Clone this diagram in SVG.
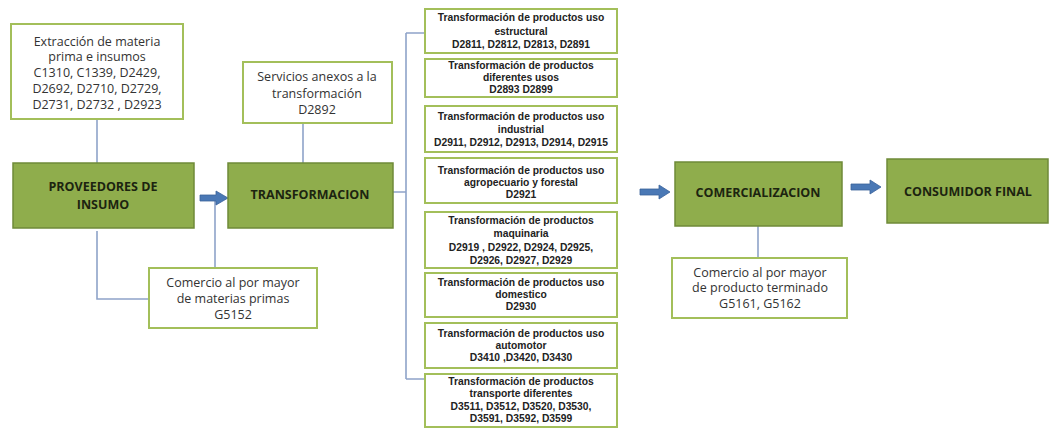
<svg xmlns="http://www.w3.org/2000/svg" width="1049" height="428" viewBox="0 0 1049 428">
<style>
.main{fill:#8fad4c;stroke:#6f8a38;stroke-width:1.5}
.sub{fill:#fff;stroke:#a3bf5a;stroke-width:2}
.mt{font-family:"Open Sans","Liberation Sans",sans-serif;font-weight:bold;font-size:12.5px;fill:#1c2410;text-anchor:middle}
.st{font-family:"Open Sans","Liberation Sans",sans-serif;font-size:12.5px;fill:#333;text-anchor:middle}
.tt{font-family:"Liberation Sans",sans-serif;font-size:10.3px;fill:#222;text-anchor:middle;font-weight:bold}
.ln{fill:none;stroke:#8ea3c9;stroke-width:1.6}
.ar{fill:#4a78b5;stroke:#3a629a;stroke-width:0.8}
</style>
<rect width="1049" height="428" fill="#fff"/>
<g id="connectors">
<path class="ln" d="M97 119V163"/>
<path class="ln" d="M97 231V299H149"/>
<path class="ln" d="M215 268V199"/>
<path class="ln" d="M303 123V163"/>
<path class="ln" d="M393 192H406M406 33V379M406 33H425M406 379H425"/>
<path class="ln" d="M758 226V258"/>
<polygon class="ar" points="200,195 216,195 216,191 228,198 216,205 216,201 200,201"/>
<polygon class="ar" points="640,189 659,189 659,185 670,192 659,199 659,195 640,195"/>
<polygon class="ar" points="851,184 870,184 870,180 881,187 870,194 870,190 851,190"/>
</g>
<g id="extraccion">
<rect class="sub" x="11" y="24" width="172" height="95"/>
<text class="st" x="97" y="46">Extracción de materia</text>
<text class="st" x="97" y="61">prima e insumos</text>
<text class="st" x="97" y="77">C1310, C1339, D2429,</text>
<text class="st" x="97" y="93">D2692, D2710, D2729,</text>
<text class="st" x="97" y="109">D2731, D2732 , D2923</text>
</g>
<g id="proveedores">
<rect class="main" x="13" y="163" width="181" height="65"/>
<text class="mt" x="103" y="191">PROVEEDORES DE</text>
<text class="mt" x="103" y="209">INSUMO</text>
</g>
<g id="comercio-materias">
<rect class="sub" x="149" y="268" width="168" height="60"/>
<text class="st" x="233" y="287">Comercio al por mayor</text>
<text class="st" x="233" y="303">de materias primas</text>
<text class="st" x="233" y="319">G5152</text>
</g>
<g id="servicios">
<rect class="sub" x="243" y="62" width="149" height="61"/>
<text class="st" x="317" y="81">Servicios anexos a la</text>
<text class="st" x="317" y="98">transformación</text>
<text class="st" x="317" y="114">D2892</text>
</g>
<g id="transformacion">
<rect class="main" x="228" y="163" width="165" height="65"/>
<text class="mt" x="310" y="199">TRANSFORMACION</text>
</g>
<g id="t1">
<rect class="sub" x="425" y="9" width="192" height="44"/>
<text class="tt" x="521" y="21">Transformación de productos uso</text>
<text class="tt" x="521" y="35">estructural</text>
<text class="tt" x="521" y="48">D2811, D2812, D2813, D2891</text>
</g>
<g id="t2">
<rect class="sub" x="425" y="59" width="192" height="38"/>
<text class="tt" x="521" y="69">Transformación de productos</text>
<text class="tt" x="521" y="81">diferentes usos</text>
<text class="tt" x="521" y="93">D2893 D2899</text>
</g>
<g id="t3">
<rect class="sub" x="425" y="106" width="192" height="46"/>
<text class="tt" x="521" y="120">Transformación de productos uso</text>
<text class="tt" x="521" y="133">industrial</text>
<text class="tt" x="521" y="146">D2911, D2912, D2913, D2914, D2915</text>
</g>
<g id="t4">
<rect class="sub" x="425" y="158" width="192" height="45"/>
<text class="tt" x="521" y="174">Transformación de productos uso</text>
<text class="tt" x="521" y="186">agropecuario y forestal</text>
<text class="tt" x="521" y="198">D2921</text>
</g>
<g id="t5">
<rect class="sub" x="425" y="212" width="192" height="56"/>
<text class="tt" x="521" y="224">Transformación de productos</text>
<text class="tt" x="521" y="237">maquinaria</text>
<text class="tt" x="521" y="251">D2919 , D2922, D2924, D2925,</text>
<text class="tt" x="521" y="264">D2926, D2927, D2929</text>
</g>
<g id="t6">
<rect class="sub" x="425" y="273" width="192" height="44"/>
<text class="tt" x="521" y="286">Transformación de productos uso</text>
<text class="tt" x="521" y="298">domestico</text>
<text class="tt" x="521" y="310">D2930</text>
</g>
<g id="t7">
<rect class="sub" x="425" y="323" width="192" height="45"/>
<text class="tt" x="521" y="337">Transformación de productos uso</text>
<text class="tt" x="521" y="349">automotor</text>
<text class="tt" x="521" y="361">D3410 ,D3420, D3430</text>
</g>
<g id="t8">
<rect class="sub" x="425" y="374" width="192" height="53"/>
<text class="tt" x="521" y="385">Transformación de productos</text>
<text class="tt" x="521" y="397">transporte diferentes</text>
<text class="tt" x="521" y="410">D3511, D3512, D3520, D3530,</text>
<text class="tt" x="521" y="422">D3591, D3592, D3599</text>
</g>
<g id="comercializacion">
<rect class="main" x="675" y="162" width="167" height="64"/>
<text class="mt" x="758" y="197">COMERCIALIZACION</text>
</g>
<g id="consumidor">
<rect class="main" x="887" y="159" width="161" height="64"/>
<text class="mt" x="968" y="196">CONSUMIDOR FINAL</text>
</g>
<g id="comercio-producto">
<rect class="sub" x="672" y="258" width="175" height="60"/>
<text class="st" x="760" y="277">Comercio al por mayor</text>
<text class="st" x="760" y="292">de producto terminado</text>
<text class="st" x="760" y="308">G5161, G5162</text>
</g>
</svg>
